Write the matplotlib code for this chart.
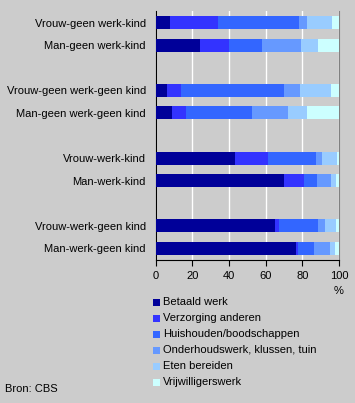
import matplotlib
matplotlib.use("Agg")
import matplotlib.pyplot as plt
from matplotlib.patches import Rectangle
import numpy as np

plt.rcParams['font.family'] = ['Liberation Sans', 'DejaVu Sans']

categories = ["Vrouw-geen werk-kind", "Man-geen werk-kind",
              "Vrouw-geen werk-geen kind", "Man-geen werk-geen kind",
              "Vrouw-werk-kind", "Man-werk-kind",
              "Vrouw-werk-geen kind", "Man-werk-geen kind"]
series_names = ["Betaald werk", "Verzorging anderen", "Huishouden/boodschappen",
                "Onderhoudswerk, klussen, tuin", "Eten bereiden", "Vrijwilligerswerk"]
betaald      = [8.0, 24.3, 6.4, 9.1, 43.4, 70.1, 65.2, 76.6]
verzorging   = [26.1, 15.8, 7.6, 7.6, 18.0, 10.9, 2.2, 1.1]
huishouden   = [44.1, 18.0, 56.1, 35.9, 26.1, 7.1, 21.2, 8.7]
onderhoud    = [4.4, 21.2, 8.7, 19.6, 3.3, 7.6, 3.8, 8.7]
eten         = [13.6, 9.3, 16.9, 10.3, 8.2, 2.7, 6.0, 2.7]
vrijwilliger = [3.8, 11.4, 4.4, 17.4, 1.1, 1.6, 1.6, 2.2]
xticks = [0, 20, 40, 60, 80, 100]

colors = ["#000099", "#3333ff", "#3366ff", "#6699ff", "#99ccff", "#ccffff"]
bg = "#cccccc"
FS = 8

fig = plt.figure(figsize=(3.55, 4.03), dpi=100, facecolor=bg)
W, H = 355, 403
ax = fig.add_axes([155.5 / W, 1 - 260 / H, (339 - 155.5) / W, (260 - 11) / H])
ax.set_facecolor(bg)

ypos = [0, 1, 3, 4, 6, 7, 9, 10]
data = [betaald, verzorging, huishouden, onderhoud, eten, vrijwilliger]
left = np.zeros(len(categories))
for vals, c, name in zip(data, colors, series_names):
    ax.barh(ypos, vals, left=left, height=0.58, color=c, label=name, zorder=3)
    left += np.array(vals)

ax.set_xlim(0, 100)
ax.set_ylim(10.51, -0.51)
ax.set_xticks(xticks)
ax.set_xticklabels([str(t) for t in xticks], fontsize=FS)
ax.set_yticks(ypos)
ax.set_yticklabels(categories, fontsize=FS)
ax.tick_params(axis='y', length=0, pad=7)
ax.tick_params(axis='x', length=4, width=0.8, direction='out', pad=4)
ax.grid(axis='x', color='white', linewidth=1, zorder=1)
ax.spines['top'].set_visible(False)
ax.spines['right'].set_color('#808080')
ax.spines['left'].set_color('black')
ax.spines['bottom'].set_color('black')

fig.text(339 / W, 1 - 291 / H, "%", ha='center', va='center', fontsize=FS)

# legend
for i, (name, c) in enumerate(zip(series_names, colors)):
    y = 302 + 16 * i
    fig.patches.append(Rectangle((153 / W, 1 - (y + 3.5) / H), 7 / W, 7 / H,
                                 transform=fig.transFigure, facecolor=c,
                                 edgecolor='none'))
    fig.text(163 / W, 1 - y / H, name, ha='left', va='center', fontsize=FS)

fig.text(5 / W, 1 - 389 / H, "Bron: CBS", ha='left', va='center', fontsize=FS)

fig.savefig("out.png", dpi=100, facecolor=bg)
